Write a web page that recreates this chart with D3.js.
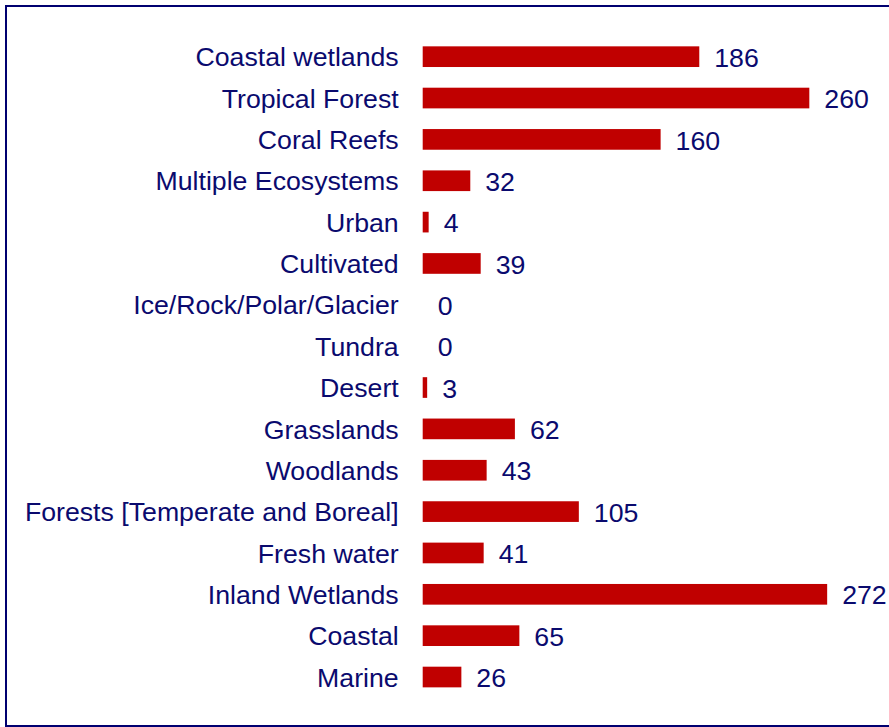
<!DOCTYPE html>
<html>
<head>
<meta charset="utf-8">
<script src="https://cdn.jsdelivr.net/npm/d3@7"></script>
<style>
  html, body { margin: 0; padding: 0; background: #ffffff; }
  svg { display: block; }
</style>
</head>
<body>
<svg id="chart" width="889" height="727"></svg>
<script>
const categories = [
  "Coastal wetlands", "Tropical Forest", "Coral Reefs", "Multiple Ecosystems",
  "Urban", "Cultivated", "Ice/Rock/Polar/Glacier", "Tundra", "Desert",
  "Grasslands", "Woodlands", "Forests [Temperate and Boreal]", "Fresh water",
  "Inland Wetlands", "Coastal", "Marine"
];
const values = [186, 260, 160, 32, 4, 39, 0, 0, 3, 62, 43, 105, 41, 272, 65, 26];
const xDomain = [0, 300];

const svg = d3.select("#chart");
const textColor = "#0a0a6e";
const barColor = "#c00000";
const fontFamily = "'Liberation Sans', Arial, sans-serif";
const fontSize = 26.7;

// frame
svg.append("rect")
  .attr("x", 6).attr("y", 6)
  .attr("width", 900).attr("height", 720)
  .attr("fill", "none")
  .attr("stroke", "#000070")
  .attr("stroke-width", 2);

const x0 = 422.7;
const x = d3.scaleLinear().domain(xDomain).range([x0, x0 + 300 * 1.487]);
const y = d3.scaleBand().domain(categories).range([36, 697.7])
  .paddingInner(0.5).paddingOuter(0.25);

const data = categories.map((c, i) => ({ c, v: values[i] }));

svg.selectAll("rect.bar").data(data).enter().append("rect")
  .attr("class", "bar")
  .attr("x", x(0))
  .attr("y", d => y(d.c))
  .attr("width", d => x(d.v) - x(0))
  .attr("height", y.bandwidth())
  .attr("fill", barColor);

const axis = svg.append("g")
  .attr("transform", `translate(${x0},0)`)
  .call(d3.axisLeft(y).tickSize(0).tickPadding(24));
axis.select(".domain").remove();
axis.selectAll("text")
  .attr("fill", textColor)
  .attr("dy", "0.36em")
  .style("font-family", fontFamily)
  .style("font-size", fontSize + "px");

svg.selectAll("text.val").data(data).enter().append("text")
  .attr("class", "val")
  .attr("x", d => x(d.v) + 15)
  .attr("y", d => y(d.c) + y.bandwidth() / 2)
  .attr("dy", "0.38em")
  .attr("fill", textColor)
  .style("font-family", fontFamily)
  .style("font-size", fontSize + "px")
  .text(d => d.v);
</script>
</body>
</html>
